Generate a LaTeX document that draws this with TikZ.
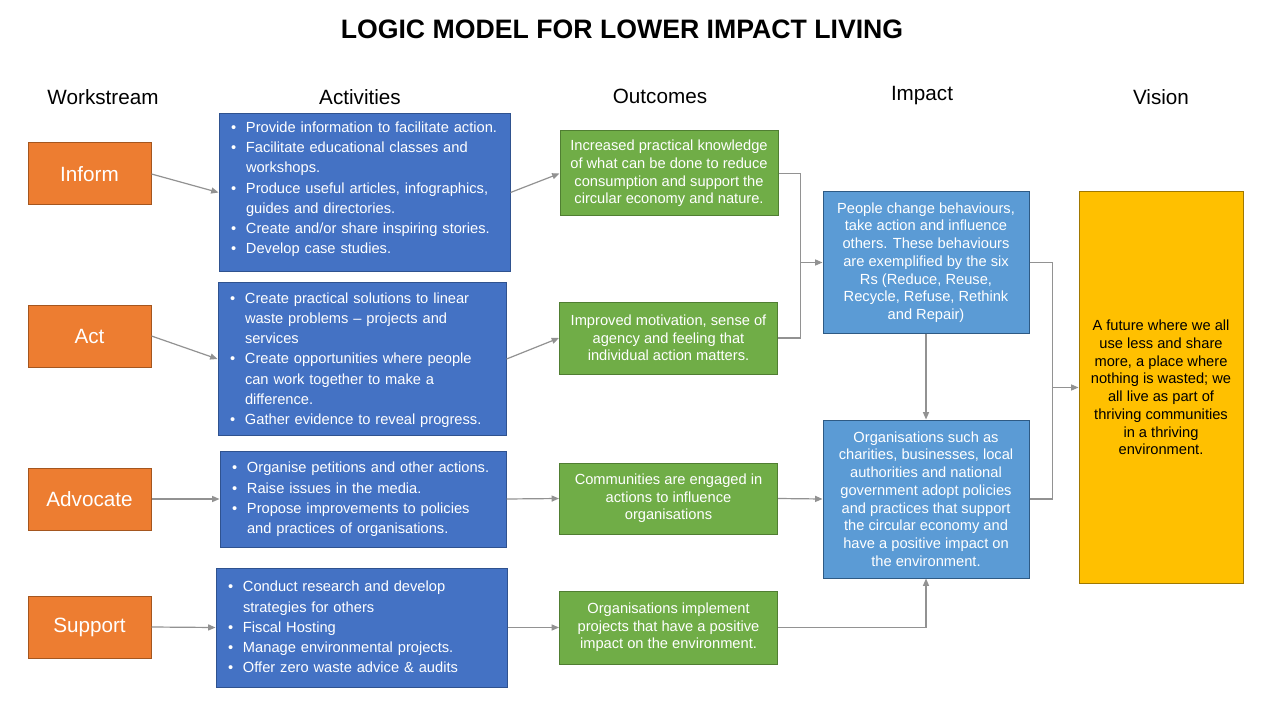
\documentclass[tikz,border=0pt]{standalone}
\usepackage{fontspec}
\setmainfont{Liberation Sans}
\usetikzlibrary{arrows.meta}
\definecolor{wsorange}{HTML}{ED7D31}
\definecolor{wsline}{HTML}{A4561F}
\definecolor{actblue}{HTML}{4472C4}
\definecolor{actline}{HTML}{2F528F}
\definecolor{outgreen}{HTML}{70AD47}
\definecolor{greenline}{HTML}{507E32}
\definecolor{impblue}{HTML}{5B9BD5}
\definecolor{impline}{HTML}{2E5A84}
\definecolor{visyellow}{HTML}{FFC000}
\definecolor{visline}{HTML}{A07800}
\definecolor{linkgray}{HTML}{929292}
\newcommand{\bul}[1]{\par\noindent\hangindent=11.25pt\hangafter=1\makebox[11.25pt][l]{\textbullet}#1\par}
\newcommand{\lift}[1]{\rule[-#1]{0pt}{0pt}}
\begin{document}
\begin{tikzpicture}[x=0.75pt, y=-0.75pt,
	ws/.style={draw=wsline, fill=wsorange, text=white, font=\fontsize{15.5}{18}\selectfont, minimum width=92.25pt, minimum height=46.5pt, line width=0.75pt},
	actbox/.style={draw=actline, fill=actblue, text=white, font=\fontsize{11}{15.2}\selectfont, align=left, inner sep=0pt, line width=0.75pt},
	outbox/.style={draw=greenline, fill=outgreen, text=white, font=\fontsize{11}{13.2}\selectfont, align=center, minimum width=163.5pt, line width=0.75pt},
	impbox/.style={draw=impline, fill=impblue, text=white, font=\fontsize{11}{13.3}\selectfont, align=center, minimum width=154.5pt, line width=0.75pt},
	visbox/.style={draw=visline, fill=visyellow, text=black, font=\fontsize{11}{13.3}\selectfont, align=center, minimum width=123pt, minimum height=293.25pt, line width=0.75pt},
	head/.style={font=\fontsize{15.5}{18}\selectfont},
	link/.style={draw=linkgray, line width=0.9pt, -{Triangle[length=5.5pt, width=4.5pt]}},
	plain/.style={draw=linkgray, line width=0.9pt}]
	\useasboundingbox[fill=white] (0,0) rectangle (1280,720);
	\node[font=\fontsize{20}{24}\selectfont\bfseries] (title) at (622,29) {LOGIC MODEL FOR LOWER IMPACT LIVING};
	% column headers
	\node[head] (hws) at (103,97) {Workstream};
	\node[head] (hact) at (360,97) {Activities};
	\node[head] (hout) at (660,96) {Outcomes};
	\node[head] (himp) at (922,96) {Impact};
	\node[head] (hvis) at (1161,97) {Vision};

	% workstreams
	\node[ws] (inform) at (89.5,174) {Inform};
	\node[ws] (act) at (89.5,336) {Act};
	\node[ws] (advocate) at (89.5,499) {Advocate};
	\node[ws] (support) at (89.5,627) {Support};

	% activities
	\node[actbox, text width=200.25pt, minimum width=218.25pt, minimum height=117.75pt] (a1) at (364.5,192.5) {%
		\vspace*{-12pt}
		\bul{Provide information to facilitate action.}
		\bul{Facilitate educational classes and\newline workshops.}
		\bul{Produce useful articles, infographics,\newline guides and directories.}
		\bul{Create and/or share inspiring stories.}
		\bul{Develop case studies.}};
	\node[actbox, text width=198pt, minimum width=216pt, minimum height=114pt] (a2) at (362,359) {%
		\bul{Create practical solutions to linear\newline waste problems -- projects and\newline services}
		\bul{Create opportunities where people\newline can work together to make a\newline difference.}
		\bul{Gather evidence to reveal progress.\lift{8pt}}};
	\node[actbox, text width=196.5pt, minimum width=214.5pt, minimum height=72pt] (a3) at (363,499) {%
		\bul{Organise petitions and other actions.}
		\bul{Raise issues in the media.}
		\bul{Propose improvements to policies\newline and practices of organisations.\lift{9pt}}};
	\node[actbox, text width=200.25pt, minimum width=218.25pt, minimum height=89.25pt] (a4) at (361.5,627.5) {%
		\bul{Conduct research and develop\newline strategies for others}
		\bul{Fiscal Hosting}
		\bul{Manage environmental projects.}
		\bul{Offer zero waste advice \& audits\lift{8pt}}};

	% outcomes
	\node[outbox, minimum height=63.75pt] (o1) at (669,173.5) {Increased practical knowledge\\of what can be done to reduce\\consumption and support the\\circular economy and nature.};
	\node[outbox, minimum height=54pt] (o2) at (668.5,338) {Improved motivation, sense of\\agency and feeling that\\individual action matters.};
	\node[outbox, minimum height=53.25pt] (o3) at (668.5,498.5) {Communities are engaged in\\actions to influence\\organisations};
	\node[outbox, minimum height=54.75pt] (o4) at (668.5,627.5) {Organisations implement\\projects that have a positive\\impact on the environment.};

	% impact and vision
	\node[impbox, minimum height=105.75pt] (i1) at (926,262.5) {People change behaviours,\\take action and influence\\others. These behaviours\\are exemplified by the six\\Rs (Reduce, Reuse,\\Recycle, Refuse, Rethink\\and Repair)};
	\node[impbox, minimum height=118.5pt] (i2) at (926,499) {Organisations such as\\charities, businesses, local\\authorities and national\\government adopt policies\\and practices that support\\the circular economy and\\have a positive impact on\\the environment.};
	\node[visbox] (vis) at (1161,387.5) {A future where we all\\use less and share\\more, a place where\\nothing is wasted; we\\all live as part of\\thriving communities\\in a thriving\\environment.};

	% junction points
	\path (i1.west) ++(-22,0) coordinate (j1);
	\path (vis.west) ++(-26,0) coordinate (j2);

	% connectors
	\draw[link] (inform.east) -- (a1.west);
	\draw[link] (act.east) -- (a2.west);
	\draw[link] (advocate.east) -- (a3.west);
	\draw[link] (support.east) -- (a4.west);
	\draw[link] (a1.east) -- (o1.west);
	\draw[link] (a2.east) -- (o2.west);
	\draw[link] (a3.east) -- (o3.west);
	\draw[link] (a4.east) -- (o4.west);
	\draw[plain] (o1.east) -| (j1);
	\draw[plain] (o2.east) -| (j1);
	\draw[link] (j1) -- (i1.west);
	\draw[link] (i1.south) -- (i2.north);
	\draw[link] (o3.east) -- (i2.west);
	\draw[link] (o4.east) -| (i2.south);
	\draw[plain] (i1.east) -| (j2);
	\draw[plain] (i2.east) -| (j2);
	\draw[link] (j2) -- (vis.west);
\end{tikzpicture}
\end{document}
